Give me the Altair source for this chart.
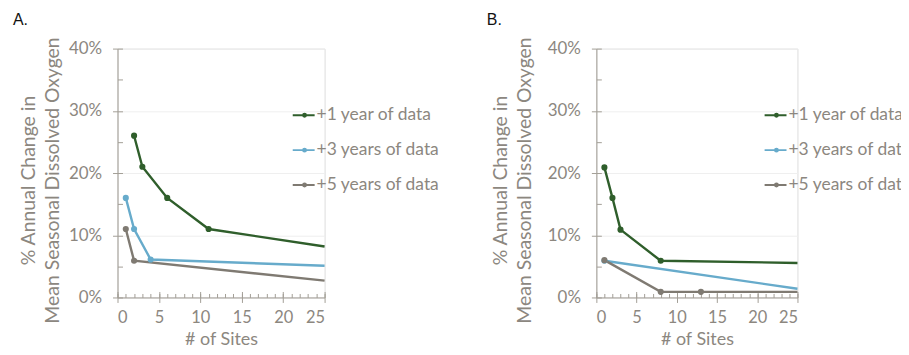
import altair as alt
import pandas as pd

series = ["+1 year of data", "+3 years of data", "+5 years of data"]
colors = ["#2f5e2b", "#67abcb", "#7f7a72"]

# Panel A
a_x_1 = [2, 3, 6, 11, 25]
a_y_1 = [26, 21, 16, 11, 8.2]
a_m_1 = [1, 1, 1, 1, 0]
a_x_3 = [1, 2, 4, 25]
a_y_3 = [16, 11, 6.1, 5.1]
a_m_3 = [1, 1, 1, 0]
a_x_5 = [1, 2, 25]
a_y_5 = [11, 5.9, 2.7]
a_m_5 = [1, 1, 0]

# Panel B
b_x_1 = [1, 2, 3, 8, 25]
b_y_1 = [20.9, 16, 10.9, 5.9, 5.55]
b_m_1 = [1, 1, 1, 1, 0]
b_x_3 = [1, 25]
b_y_3 = [5.9, 1.4]
b_m_3 = [1, 0]
b_x_5 = [1, 8, 13, 25]
b_y_5 = [6, 0.9, 0.9, 0.9]
b_m_5 = [1, 1, 1, 0]

x_ticks = [0, 5, 10, 15, 20, 25]
x_minor = list(range(0, 26))
y_ticks = [0, 10, 20, 30, 40]
y_minor = [0, 5, 10, 15, 20, 25, 30, 35, 40]

y_title = ["% Annual Change in", "Mean Seasonal Dissolved Oxygen"]
x_title = "# of Sites"

TXT = "#8c877f"
AX = "#a29e96"
FONT = "Lato"
H = 250

LEG_PATH = ("M-1,0L1,0M-0.05,0A0.13,0.13 0 1,0 0.21,0"
            "A0.13,0.13 0 1,0 -0.05,0Z")


def panel(xs, ys, ms, label, width, leg_x, leg_y, title_dx, ytitle_x):
    rows = []
    for s, x, y, m in zip(series, xs, ys, ms):
        for i, (xi, yi, mi) in enumerate(zip(x, y, m)):
            rows.append(dict(series=s, sites=xi, pct=yi, marker=mi, order=i))
    df = pd.DataFrame(rows)
    xscale = alt.Scale(domain=[0, 25], nice=False, zero=True)
    yscale = alt.Scale(domain=[0, 40], nice=False, zero=True)
    cscale = alt.Scale(domain=series, range=colors)
    base = alt.Chart(df)

    lines = base.mark_line(strokeWidth=2.4).encode(
        x=alt.X("sites:Q", scale=xscale,
                axis=alt.Axis(values=x_ticks, title=x_title, grid=False,
                              tickSize=5, tickColor=AX, domainColor=AX,
                              labelFontSize=16.5, labelColor=TXT,
                              labelFont=FONT, labelPadding=7,
                              titleFontSize=18, titleColor=TXT,
                              titleFont=FONT, titleFontWeight="normal",
                              titlePadding=5)),
        y=alt.Y("pct:Q", scale=yscale,
                axis=alt.Axis(values=y_ticks, labelExpr="datum.value + '%'",
                              title=y_title, grid=True, gridColor="#efefef",
                              tickSize=5, tickColor=AX, domainColor=AX,
                              labelFontSize=17, labelColor=TXT, labelFont=FONT,
                              labelPadding=11, titleFontSize=19.5,
                              titleColor=TXT, titleFont=FONT,
                              titleFontWeight="normal",
                              titleLineHeight=24, titleX=ytitle_x,
                              titleY=132, titleAlign="center")),
        color=alt.Color("series:N", scale=cscale, sort=series,
                        legend=alt.Legend(
                            title=None, orient="none", legendX=leg_x,
                            legendY=leg_y, symbolType=LEG_PATH,
                            symbolSize=484, symbolStrokeWidth=2,
                            labelFontSize=17.5, labelColor=TXT, labelFont=FONT,
                            labelOffset=1, rowPadding=14)),
        order="order:Q",
    )
    pts = base.transform_filter("datum.marker == 1").mark_circle(
        size=38, opacity=1).encode(
        x=alt.X("sites:Q", scale=xscale, axis=None),
        y=alt.Y("pct:Q", scale=yscale, axis=None),
        color=alt.Color("series:N", scale=cscale, legend=None),
    )
    minor_x = base.mark_line(opacity=0).encode(
        x=alt.X("sites:Q", scale=xscale,
                axis=alt.Axis(orient="top", offset=-H, values=x_minor,
                              labels=False, domain=False, grid=False,
                              title=None, tickSize=4, tickColor=AX)),
        y=alt.Y("pct:Q", scale=yscale, axis=None),
    )
    major_x = base.mark_line(opacity=0).encode(
        x=alt.X("sites:Q", scale=xscale,
                axis=alt.Axis(orient="top", offset=-H, values=x_ticks,
                              labels=False, domain=False, grid=False,
                              title=None, tickSize=6, tickColor=AX)),
        y=alt.Y("pct:Q", scale=yscale, axis=None),
    )
    minor_y = base.mark_line(opacity=0).encode(
        x=alt.X("sites:Q", scale=xscale, axis=None),
        y=alt.Y("pct:Q", scale=yscale,
                axis=alt.Axis(orient="right", offset=-width, values=y_minor,
                              labels=False, domain=False, grid=False,
                              title=None, tickSize=5, tickColor=AX)),
    )
    return alt.layer(lines, pts, minor_x, major_x, minor_y).resolve_axis(
        x="independent", y="independent"
    ).properties(
        width=width, height=H,
        title=alt.TitleParams(label, anchor="start", frame="group",
                              dx=title_dx, fontSize=16, font="Liberation Sans",
                              fontWeight="normal", color="#111111", offset=9),
    )


A = panel([a_x_1, a_x_3, a_x_5], [a_y_1, a_y_3, a_y_5],
          [a_m_1, a_m_3, a_m_5], "A.", 208, 175, 55, -105, -79)
B = panel([b_x_1, b_x_3, b_x_5], [b_y_1, b_y_3, b_y_5],
          [b_m_1, b_m_3, b_m_5], "B.", 202, 168, 55, -110, -86)

chart = alt.hconcat(A, B, spacing=273, bounds="flush").resolve_scale(
    color="independent"
).resolve_legend(color="independent").configure_view(
    stroke=None
).configure(padding={"left": 4, "top": 2, "right": -12, "bottom": 0})

chart.save("out.html", embed_options={"renderer": "svg", "actions": False})
